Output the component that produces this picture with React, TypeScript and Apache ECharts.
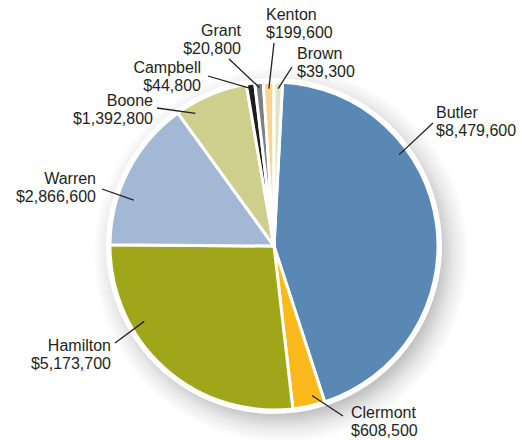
import React, { useEffect, useRef } from 'react';
import * as echarts from 'echarts';

// Data
const counties = ['Butler', 'Clermont', 'Hamilton', 'Warren', 'Boone', 'Campbell', 'Grant', 'Kenton', 'Brown'];
const amounts = [8479600, 608500, 5173700, 2866600, 1392800, 44800, 20800, 199600, 39300];

// Styles / layout
const sliceColors = ['#5a88b4', '#fbb91c', '#a0a61a', '#a3b8d5', '#cfcf8d', '#1c1c1c', '#7e7f83', '#fcd48d', '#dfe4c5'];
const CENTER: [number, number] = [274, 246];
const RADIUS = 164;
const labelAnchors: [number, number, string][] = [
  [436, 121, 'left'],
  [351, 421, 'left'],
  [111, 354, 'right'],
  [96, 187, 'right'],
  [153, 109, 'right'],
  [201, 76, 'right'],
  [241, 39, 'right'],
  [266, 23, 'left'],
  [297, 62, 'left'],
];
const lineEnds: [number, number][] = [
  [433, 123], [343, 416], [115, 343], [102, 189], [157, 108], [208, 76], [229, 59], [274, 43], [292, 67],
];
// where, inside each slice, the leader line starts: fraction of the slice's sweep and of the radius
const lineStartFrac = [0.32, 0.33, 0.685, 0.33, 0.2, 0.5, 0.5, 0.5, 0.5];
const innerFactor = [0.945, 0.94, 0.915, 0.9, 0.94, 0.97, 0.97, 0.96, 0.96];

export default function App() {
  const ref = useRef<HTMLDivElement>(null);
  useEffect(() => {
    const chart = echarts.init(ref.current!, null, { renderer: 'svg' });
    chart.setOption({
      animation: false,
      backgroundColor: '#ffffff',
      series: [
        {
          type: 'pie',
          silent: true,
          center: [CENTER[0] + 7, CENTER[1] + 9],
          radius: RADIUS + 24,
          z: 0,
          label: { show: false },
          labelLine: { show: false },
          data: [
            {
              value: 1,
              name: 'shadow',
              itemStyle: {
                color: {
                  type: 'radial',
                  x: 0.5,
                  y: 0.5,
                  r: 0.5,
                  colorStops: [
                    { offset: 0, color: 'rgba(0,0,0,0.3)' },
                    { offset: 0.84, color: 'rgba(0,0,0,0.24)' },
                    { offset: 0.92, color: 'rgba(0,0,0,0.09)' },
                    { offset: 1, color: 'rgba(0,0,0,0)' },
                  ],
                },
              },
            },
          ],
        },
        {
          type: 'pie',
          silent: true,
          center: CENTER,
          radius: RADIUS + 4,
          z: 1,
          label: { show: false },
          labelLine: { show: false },
          data: [{ value: 1, name: 'bg', itemStyle: { color: '#ffffff' } }],
        },
        {
          type: 'pie',
          center: CENTER,
          radius: RADIUS,
          startAngle: 87,
          minAngle: 3,
          z: 2,
          avoidLabelOverlap: false,
          itemStyle: { borderColor: '#ffffff', borderWidth: 3 },
          data: counties.map((n, i) => ({ name: n, value: amounts[i], itemStyle: { color: sliceColors[i] } })),
          label: {
            show: true,
            formatter: (p: any) => `${p.name}\n$${Number(p.value).toLocaleString('en-US')}`,
            fontFamily: '"Liberation Sans", Arial, sans-serif',
            fontSize: 16,
            lineHeight: 18,
            color: '#231f20',
          },
          labelLine: { show: false },
          labelLayout: (params: any) => {
            const [x, y, align] = labelAnchors[params.dataIndex];
            return { x, y, align, verticalAlign: 'middle' };
          },
        },
      ],
    });

    // Leader lines: start inside each slice (from the pie's own layout), end at the label
    try {
      const data = (chart as any).getModel().getSeriesByIndex(2).getData();
      const elements = counties.map((_, i) => {
        const l = data.getItemLayout(i);
        const a = l.startAngle + lineStartFrac[i] * (l.endAngle - l.startAngle);
        const k = innerFactor[i];
        const sx = l.cx + k * l.r * Math.cos(a);
        const sy = l.cy + k * l.r * Math.sin(a);
        return {
          type: 'line',
          z: 100,
          silent: true,
          shape: { x1: sx, y1: sy, x2: lineEnds[i][0], y2: lineEnds[i][1] },
          style: { stroke: '#231f20', lineWidth: 1.3 },
        };
      });
      chart.setOption({ graphic: { elements } });
    } catch (e) {
      // ignore
    }
    return () => chart.dispose();
  }, []);
  return <div ref={ref} style={{ position: 'absolute', left: 0, top: 0, width: 522, height: 440 }} />;
}
